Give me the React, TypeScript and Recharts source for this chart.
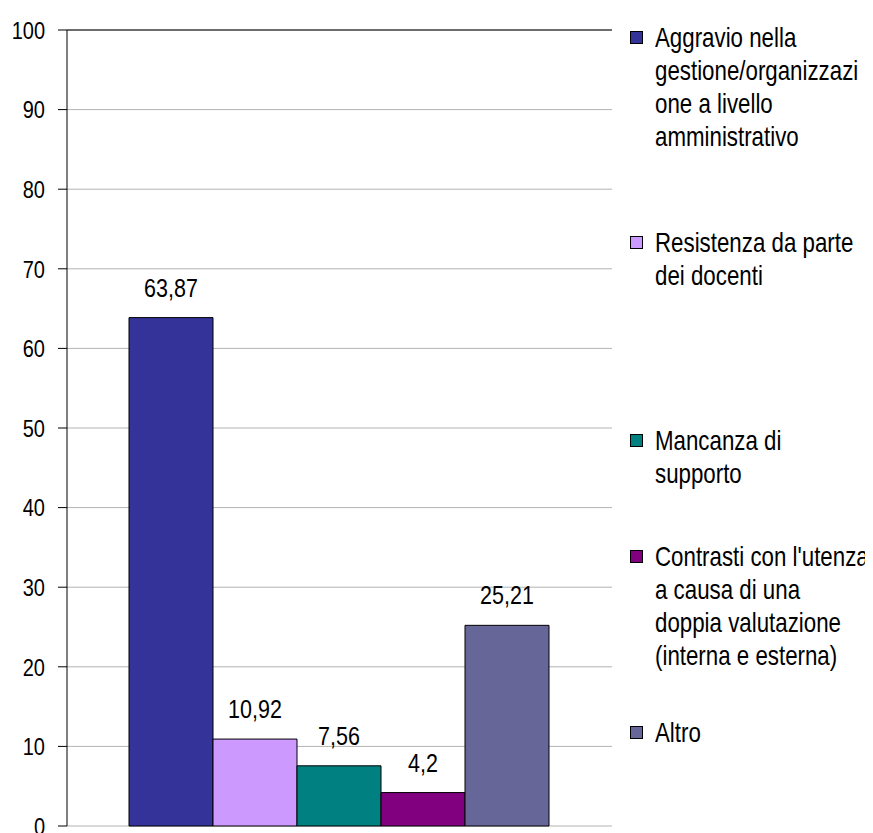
import React from "react";
import {
  BarChart,
  Bar,
  XAxis,
  YAxis,
  CartesianGrid,
  ReferenceLine,
  LabelList,
} from "recharts";

const SERIES = [
  "Aggravio nella gestione/organizzazione a livello amministrativo",
  "Resistenza da parte dei docenti",
  "Mancanza di supporto",
  "Contrasti con l'utenza a causa di una doppia valutazione (interna e esterna)",
  "Altro",
];

const VALUES = [63.87, 10.92, 7.56, 4.2, 25.21];

const COLORS = ["#333399", "#CC99FF", "#008080", "#800080", "#666699"];

const LEGEND_LINES = [
  ["Aggravio nella", "gestione/organizzazi", "one a livello", "amministrativo"],
  ["Resistenza da parte", "dei docenti"],
  ["Mancanza di", "supporto"],
  ["Contrasti con l'utenza", "a causa di una", "doppia valutazione", "(interna e esterna)"],
  ["Altro"],
];

const Y_TICKS = [0, 10, 20, 30, 40, 50, 60, 70, 80, 90, 100];

const FONT = "'Liberation Sans', Arial, sans-serif";

const row: Record<string, number | string> = { name: "" };
SERIES.forEach((s, i) => {
  row[`s${i}`] = VALUES[i];
});
const data = [row];

const fmt = (v: any) => String(v).replace(".", ",");

// first-line centre of each legend entry (chart px)
const legendTops = [29, 234, 432, 548, 724];

const YTick = (props: any) => {
  const { x, y, payload } = props;
  return (
    <g transform={`translate(${x},${y})`}>
      <text
        textAnchor="end"
        dy="0.36em"
        transform="scale(1,1.22)"
        fill="#000"
        fontSize={20}
        fontFamily={FONT}
      >
        {payload.value}
      </text>
    </g>
  );
};

const BarLabel = (props: any) => {
  const { x, y, width, value } = props;
  return (
    <g transform={`translate(${x + width / 2},${y - 21})`}>
      <text
        textAnchor="middle"
        transform="scale(1,1.22)"
        fill="#000"
        fontSize={21.5}
        fontFamily={FONT}
      >
        {fmt(value)}
      </text>
    </g>
  );
};

const CustomLegend = () => (
  <div
    style={{
      position: "absolute",
      left: 622,
      top: 0,
      width: 243,
      height: 825,
      fontFamily: FONT,
    }}
  >
    {LEGEND_LINES.map((lines, i) => (
      <div
        key={i}
        style={{
          position: "absolute",
          left: 0,
          top: legendTops[i] - 16,
          display: "flex",
          alignItems: "flex-start",
        }}
      >
        <div
          style={{
            width: 11,
            height: 11,
            marginTop: 10,
            background: COLORS[i],
            border: "1px solid #000",
            flexShrink: 0,
          }}
        />
        <div
          style={{
            marginLeft: 12,
            fontSize: 22.3,
            lineHeight: "33px",
            color: "#000",
            whiteSpace: "nowrap",
            textAlign: "left",
          }}
        >
          {lines.map((l, j) => (
            <div key={j} style={{ transform: "scaleY(1.22)", transformOrigin: "50% 50%" }}>
              {l}
            </div>
          ))}
        </div>
      </div>
    ))}
  </div>
);

export default function App() {
  return (
    <div style={{ position: "relative", width: 865, height: 825, background: "#fff" }}>
      <BarChart
        width={857}
        height={825}
        data={data}
        margin={{ top: 22, right: 253, bottom: 7, left: 0 }}
        barCategoryGap={62}
        barGap={0}
      >
        <CartesianGrid vertical={false} stroke="#b3b3b3" strokeWidth={1} yAxisId="l" />
        <XAxis
          dataKey="name"
          height={0}
          tick={false}
          tickLine={false}
          axisLine={{ stroke: "#000" }}
        />
        <YAxis
          yAxisId="l"
          domain={[0, 100]}
          ticks={Y_TICKS}
          width={59}
          tickSize={9}
          tickMargin={13}
          axisLine={{ stroke: "#000" }}
          tickLine={{ stroke: "#000" }}
          tick={<YTick />}
          interval={0}
        />
        <YAxis
          yAxisId="r"
          orientation="right"
          domain={[0, 100]}
          width={0}
          tick={false}
          tickLine={false}
          axisLine={{ stroke: "#000" }}
        />
        <ReferenceLine yAxisId="l" y={100} stroke="#000" />
        {SERIES.map((s, i) => (
          <Bar
            key={s}
            yAxisId="l"
            dataKey={`s${i}`}
            name={s}
            fill={COLORS[i]}
            stroke="#000"
            strokeWidth={1}
            isAnimationActive={false}
          >
            <LabelList dataKey={`s${i}`} content={<BarLabel />} />
          </Bar>
        ))}
      </BarChart>
      <CustomLegend />
    </div>
  );
}
